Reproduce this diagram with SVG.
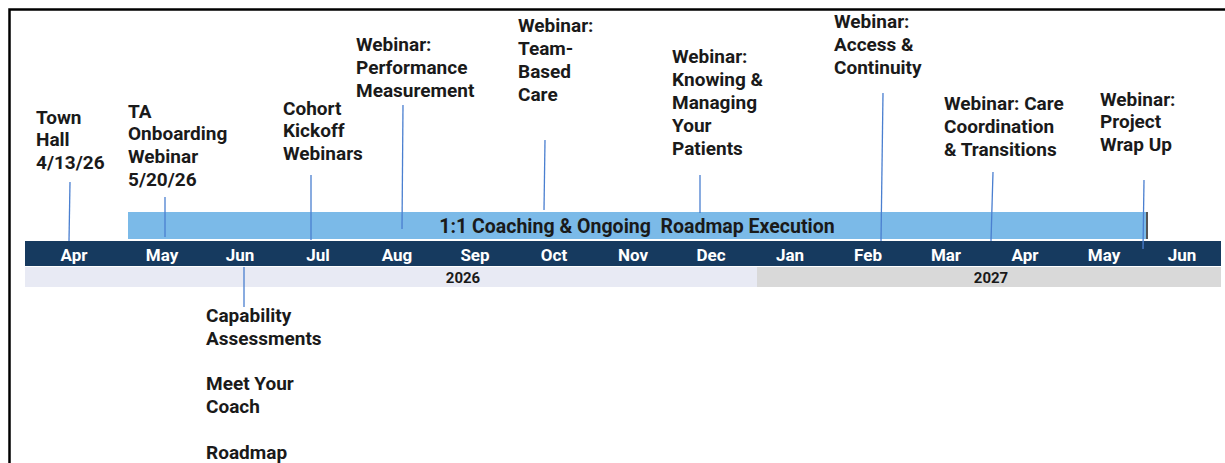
<svg xmlns="http://www.w3.org/2000/svg" width="1225" height="463" viewBox="0 0 1225 463">
  <style>
    .lbl { font-family: Roboto, "Liberation Sans", sans-serif; font-weight: bold; font-size: 19px; fill: #1a1a1a; }
    .mon { font-family: Roboto, "Liberation Sans", sans-serif; font-weight: bold; font-size: 17px; fill: #ffffff; text-anchor: middle; }
    .yr { font-family: Roboto, "Liberation Sans", sans-serif; font-weight: bold; font-size: 15px; fill: #1a1a1a; text-anchor: middle; }
    .bar { font-family: Roboto, "Liberation Sans", sans-serif; font-weight: bold; font-size: 19.5px; fill: #1a1a1a; text-anchor: middle; }
    .conn { stroke: #4a7fd0; stroke-width: 1.3; fill: none; }
  </style>
  <rect width="1225" height="463" fill="#ffffff"/>
  <!-- frame -->
  <path d="M9.5 463 V9.5 H1225" fill="none" stroke="#000" stroke-width="2.5"/>

  <!-- timeline axis -->
  <g id="axis">
    <rect x="25" y="241" width="1196" height="25" fill="#163a5f"/>
    <rect x="25" y="267" width="732" height="20" fill="#e8eaf4"/>
    <rect x="757" y="267" width="464" height="20" fill="#d9d9d9"/>
    <text class="mon" x="74" y="261">Apr</text>
    <text class="mon" x="162" y="261">May</text>
    <text class="mon" x="240" y="261">Jun</text>
    <text class="mon" x="318" y="261">Jul</text>
    <text class="mon" x="397" y="261">Aug</text>
    <text class="mon" x="475" y="261">Sep</text>
    <text class="mon" x="554" y="261">Oct</text>
    <text class="mon" x="633" y="261">Nov</text>
    <text class="mon" x="711" y="261">Dec</text>
    <text class="mon" x="790" y="261">Jan</text>
    <text class="mon" x="868" y="261">Feb</text>
    <text class="mon" x="946" y="261">Mar</text>
    <text class="mon" x="1025" y="261">Apr</text>
    <text class="mon" x="1104" y="261">May</text>
    <text class="mon" x="1182" y="261">Jun</text>
    <text class="yr" x="463" y="283">2026</text>
    <text class="yr" x="991" y="283">2027</text>
  </g>

  <!-- coaching span -->
  <g id="coaching">
    <rect x="128" y="212" width="1019" height="27" fill="#7bbae8"/>
    <line x1="1147" y1="212" x2="1147" y2="239" stroke="#555" stroke-width="2"/>
    <text class="bar" x="637" y="233">1:1 Coaching &amp; Ongoing&#160; Roadmap Execution</text>
  </g>

  <!-- connectors -->
  <g id="connectors">
    <line class="conn" x1="70" y1="182" x2="69" y2="241"/>
    <line class="conn" x1="165" y1="197" x2="165" y2="237"/>
    <line class="conn" x1="311" y1="175" x2="311" y2="240"/>
    <line class="conn" x1="403" y1="105" x2="402" y2="229"/>
    <line class="conn" x1="545" y1="140" x2="544" y2="210"/>
    <line class="conn" x1="700" y1="175" x2="700" y2="213"/>
    <line class="conn" x1="883" y1="93" x2="881" y2="241"/>
    <line class="conn" x1="993" y1="172" x2="991" y2="241"/>
    <line class="conn" x1="1144" y1="180" x2="1143" y2="249"/>
    <line class="conn" x1="244" y1="267" x2="244" y2="307"/>
  </g>

  <g id="town-hall">
    <text class="lbl" x="36" y="124">Town</text>
    <text class="lbl" x="36" y="146">Hall</text>
    <text class="lbl" x="36" y="169">4/13/26</text>
  </g>
  <g id="ta-onboarding">
    <text class="lbl" x="128" y="118">TA</text>
    <text class="lbl" x="128" y="140">Onboarding</text>
    <text class="lbl" x="128" y="163">Webinar</text>
    <text class="lbl" x="128" y="186">5/20/26</text>
  </g>
  <g id="cohort-kickoff">
    <text class="lbl" x="283" y="115">Cohort</text>
    <text class="lbl" x="283" y="137">Kickoff</text>
    <text class="lbl" x="283" y="160">Webinars</text>
  </g>
  <g id="performance">
    <text class="lbl" x="356" y="51">Webinar:</text>
    <text class="lbl" x="356" y="74">Performance</text>
    <text class="lbl" x="356" y="97">Measurement</text>
  </g>
  <g id="team-care">
    <text class="lbl" x="518" y="32">Webinar:</text>
    <text class="lbl" x="518" y="55">Team-</text>
    <text class="lbl" x="518" y="78">Based</text>
    <text class="lbl" x="518" y="101">Care</text>
  </g>
  <g id="knowing-patients">
    <text class="lbl" x="672" y="63">Webinar:</text>
    <text class="lbl" x="672" y="86">Knowing &amp;</text>
    <text class="lbl" x="672" y="109">Managing</text>
    <text class="lbl" x="672" y="132">Your</text>
    <text class="lbl" x="672" y="155">Patients</text>
  </g>
  <g id="access-continuity">
    <text class="lbl" x="834" y="28">Webinar:</text>
    <text class="lbl" x="834" y="51">Access &amp;</text>
    <text class="lbl" x="834" y="74">Continuity</text>
  </g>
  <g id="care-coordination">
    <text class="lbl" x="944" y="110">Webinar: Care</text>
    <text class="lbl" x="944" y="133">Coordination</text>
    <text class="lbl" x="944" y="156">&amp; Transitions</text>
  </g>
  <g id="wrap-up">
    <text class="lbl" x="1100" y="106">Webinar:</text>
    <text class="lbl" x="1100" y="128">Project</text>
    <text class="lbl" x="1100" y="151">Wrap Up</text>
  </g>
  <g id="capability">
    <text class="lbl" x="206" y="322">Capability</text>
    <text class="lbl" x="206" y="345">Assessments</text>
    <text class="lbl" x="206" y="390">Meet Your</text>
    <text class="lbl" x="206" y="413">Coach</text>
    <text class="lbl" x="206" y="459">Roadmap</text>
  </g>
</svg>
